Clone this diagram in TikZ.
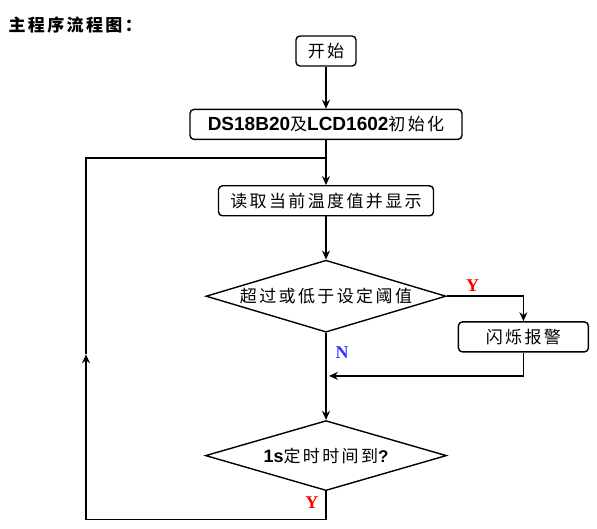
\documentclass[tikz,border=0pt]{standalone}
\usepackage{fontspec}
\setmainfont{Liberation Serif}
\newfontfamily\cjk[LetterSpace=14]{Noto Sans CJK SC}
\newfontfamily\lat{Liberation Sans}
\usepackage{tikz}
\usetikzlibrary{arrows,arrows.meta,shapes,positioning,calc}
\usepackage{xcolor}
\definecolor{ynred}{RGB}{255,0,0}
\definecolor{ynblue}{RGB}{51,51,255}
\tikzstyle{arrow} = [line width=1.4pt,-{Stealth[length=9pt,width=8pt,inset=3pt]}]
\tikzstyle{line} = [line width=1.4pt]
\tikzstyle{stepbox} = [rectangle, rounded corners=4pt, minimum height=30pt, inner xsep=6pt, text centered, draw, line width=1.4pt, font=\cjk\fontsize{17}{20}\selectfont]
\tikzstyle{testbox} = [diamond, aspect=3.33, inner sep=0pt, minimum width=240pt, minimum height=72pt, text centered, draw, line width=1.4pt, font=\cjk\fontsize{17}{20}\selectfont]
\tikzstyle{yn} = [font=\bfseries\fontsize{18}{20}\selectfont]

\begin{document}
\begin{tikzpicture}[x=1pt, y=1pt, node distance=42pt]
\useasboundingbox (0,0) rectangle (597,-529);
% Title
\node[anchor=west, font=\cjk\bfseries\fontsize{17}{20}\selectfont] (title) at (5,-25) {主程序流程图：};
% Flow
\node[stepbox, minimum width=60pt] (start) at (326,-51) {开始};
\node[stepbox, minimum width=272pt, below=42pt of start] (init) {{\lat\bfseries\fontsize{19}{20}\selectfont DS18B20}及{\lat\bfseries\fontsize{19}{20}\selectfont LCD1602}初始化};
\node[stepbox, minimum width=215pt, below=45pt of init] (read) {读取当前温度值并显示};
\node[testbox, below=43pt of read] (cmp) {超过或低于设定阈值};
\node[stepbox, minimum width=130pt, below right=25pt and 11pt of cmp.east] (alarm) {闪烁报警};
\node[testbox, minimum width=241pt, minimum height=70pt, below=87pt of cmp] (timer) {{\lat\bfseries\fontsize{18}{20}\selectfont 1s}定时时间到{\lat\bfseries ?}};

\coordinate (join) at ($(init.south)!0.4!(read.north)$);
\coordinate (ret) at ($(cmp.south)+(3,-43)$);
\coordinate (loopl) at ($(timer.south)+(-240,-28)$);
\coordinate (loopup) at ($(loopl)+(0,165)$);

\draw[arrow] (start) -- (init);
\draw[arrow] (init) -- (read);
\draw[arrow] (read) -- (cmp);
\draw[arrow] (cmp.east) -| (alarm.north);
\draw[arrow] (alarm.south) |- (ret);
\draw[arrow] (cmp.south) -- (timer.north);
\draw[arrow] (timer.south) |- (loopl) -- (loopup);
\draw[line] (loopup) |- (join);

% labels
\node[yn, text=ynred, above right=1pt and 16pt of cmp.east] (ylab) {Y};
\node[yn, text=ynred, above left=7pt and 4pt of loopl -| timer.south] (ylab2) {Y};
\node[yn, text=ynblue, below right=10pt and 6pt of cmp.south] (nlab) {N};
\end{tikzpicture}
\end{document}
